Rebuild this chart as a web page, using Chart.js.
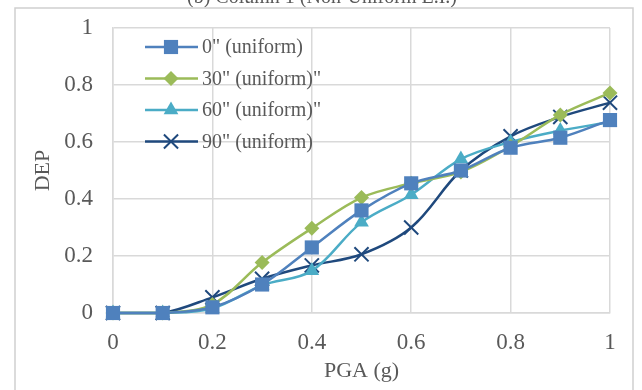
<!DOCTYPE html>
<html>
<head>
<meta charset="utf-8">
<script src="https://cdn.jsdelivr.net/npm/chart.js@4/dist/chart.umd.min.js"></script>
<style>
  html, body { margin: 0; padding: 0; background: #fff; }
  #wrap { width: 642px; height: 390px; }
</style>
</head>
<body>
<div id="wrap"><canvas id="chart" width="642" height="390"></canvas></div>
<script>
var pga = [0, 0.1, 0.2, 0.3, 0.4, 0.5, 0.6, 0.7, 0.8, 0.9, 1];
var dep0 = [0, 0, 0.02, 0.10, 0.23, 0.36, 0.455, 0.50, 0.58, 0.615, 0.677];
var dep30 = [0, 0, 0.03, 0.177, 0.297, 0.405, 0.455, 0.495, 0.585, 0.695, 0.772];
var dep60 = [0, 0, 0.016, 0.097, 0.148, 0.318, 0.415, 0.54, 0.60, 0.64, 0.67];
var dep90 = [0, 0, 0.055, 0.12, 0.167, 0.206, 0.30, 0.50, 0.62, 0.688, 0.738];
var names = ['0" (uniform)', '30" (uniform)"', '60" (uniform)"', '90" (uniform)'];
var colors = ['#4F81BD', '#9BBB59', '#4BACC6', '#1F497D'];
var markers = ['rect', 'rectRot', 'triangle', 'crossRot'];
var markerSizes = [10, 7.5, 8.5, 10];
var xTicks = [0, 0.2, 0.4, 0.6, 0.8, 1];
var yTicks = [0, 0.2, 0.4, 0.6, 0.8, 1];
var chartTitle = '(b) Column 1 (Non-Uniform E.I.)';

var serif = '"Liberation Serif", "Times New Roman", serif';
var textColor = '#595959';
var gridColor = '#d9d9d9';

function toPoints(arr) {
    return pga.map(function (x, i) { return { x: x, y: arr[i] }; });
}

var allSeries = [dep0, dep30, dep60, dep90];
var datasets = allSeries.map(function (arr, i) {
    var isCross = markers[i] === 'crossRot';
    return {
        label: names[i],
        data: toPoints(arr),
        borderColor: colors[i],
        backgroundColor: colors[i],
        borderWidth: 2.5,
        pointStyle: markers[i],
        pointRadius: markerSizes[i],
        pointBorderWidth: isCross ? 2 : 0,
        pointBorderColor: colors[i],
        pointBackgroundColor: colors[i],
        tension: 0.35,
        clip: false,
        fill: false
    };
});

// outer frame, the cut-off title and the legend inside the plot
var decorations = {
    id: 'decorations',
    beforeDraw: function (chart) {
        var ctx = chart.ctx;
        ctx.save();
        ctx.font = '20px ' + serif;
        ctx.fillStyle = textColor;
        ctx.textAlign = 'center';
        ctx.textBaseline = 'alphabetic';
        ctx.fillText(chartTitle, 322, 3);
        ctx.restore();
    },
    afterDatasetsDraw: function (chart) {
        var ctx = chart.ctx;
        ctx.save();
        ctx.font = '20px ' + serif;
        ctx.textBaseline = 'middle';
        ctx.textAlign = 'left';
        chart.data.datasets.forEach(function (ds, i) {
            var y = 47 + i * 31.5;
            ctx.strokeStyle = ds.borderColor;
            ctx.lineWidth = 2.5;
            ctx.beginPath();
            ctx.moveTo(145, y);
            ctx.lineTo(198, y);
            ctx.stroke();
            ctx.fillStyle = ds.backgroundColor;
            ctx.lineWidth = ds.pointBorderWidth;
            Chart.helpers.drawPoint(ctx, {
                pointStyle: ds.pointStyle,
                radius: ds.pointRadius,
                rotation: 0,
                borderWidth: ds.pointBorderWidth
            }, 171, y);
            ctx.fillStyle = textColor;
            ctx.fillText(ds.label, 202, y + 1);
        });
        ctx.restore();
    },
    afterDraw: function (chart) {
        var ctx = chart.ctx;
        ctx.save();
        ctx.strokeStyle = '#d0d0d0';
        ctx.lineWidth = 1.5;
        ctx.beginPath();
        ctx.moveTo(15, 400);
        ctx.lineTo(15, 8);
        ctx.lineTo(633, 8);
        ctx.lineTo(633, 400);
        ctx.stroke();
        ctx.restore();
    }
};

var ctx = document.getElementById('chart');
new Chart(ctx, {
    type: 'line',
    data: { datasets: datasets },
    plugins: [decorations],
    options: {
        responsive: false,
        animation: false,
        layout: { padding: { top: 28, right: 32, left: 0, bottom: 0 } },
        plugins: {
            legend: { display: false },
            title: { display: false },
            tooltip: { enabled: false }
        },
        scales: {
            x: {
                type: 'linear',
                min: 0,
                max: 1,
                afterBuildTicks: function (scale) {
                    scale.ticks = xTicks.map(function (v) { return { value: v }; });
                },
                afterFit: function (scale) {
                    scale.height = 77;
                    scale.paddingLeft = 0;
                    scale.paddingRight = 0;
                },
                grid: { color: gridColor, lineWidth: 1.5, drawTicks: false },
                border: { color: gridColor, width: 1.5 },
                ticks: {
                    color: textColor,
                    font: { family: serif, size: 23 },
                    padding: 16,
                    maxRotation: 0,
                    callback: function (v) { return String(v); }
                },
                title: {
                    display: true,
                    text: 'PGA (g)',
                    color: textColor,
                    font: { family: serif, size: 22 },
                    padding: { top: 6, bottom: 6 }
                }
            },
            y: {
                min: 0,
                max: 1,
                afterBuildTicks: function (scale) {
                    scale.ticks = yTicks.map(function (v) { return { value: v }; });
                },
                afterFit: function (scale) {
                    scale.width = 113;
                    scale.paddingTop = 0;
                    scale.paddingBottom = 0;
                },
                grid: { color: gridColor, lineWidth: 1.5, drawTicks: false },
                border: { color: gridColor, width: 1.5 },
                ticks: {
                    color: textColor,
                    font: { family: serif, size: 23 },
                    padding: 20,
                    callback: function (v) { return String(v); }
                },
                title: {
                    display: true,
                    text: 'DEP',
                    color: textColor,
                    font: { family: serif, size: 22 },
                    padding: { top: 30, bottom: 0 }
                }
            }
        }
    }
});
</script>
</body>
</html>
